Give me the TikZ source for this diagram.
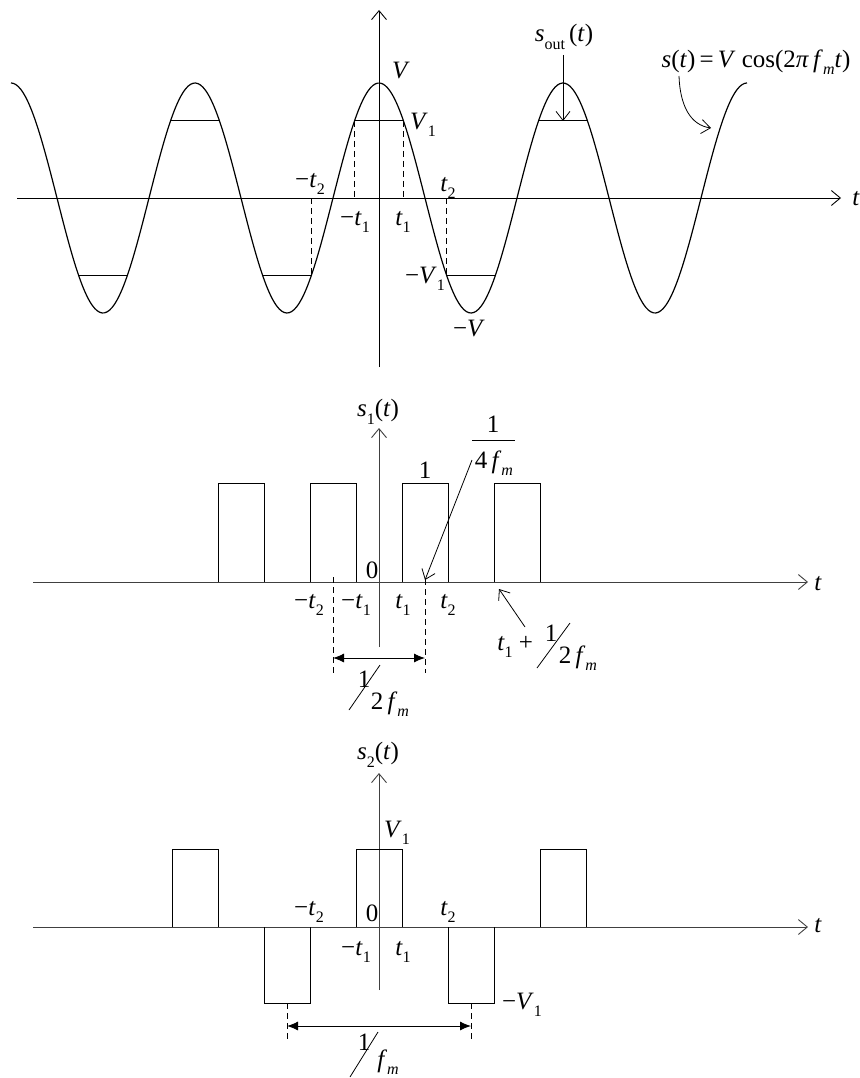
\documentclass[tikz,border=0pt]{standalone}
\usepackage{fontspec}
\setmainfont{Liberation Serif}
\usetikzlibrary{arrows.meta}
\newcommand{\ii}[1]{\textit{#1}}
\newcommand{\lsub}[1]{\raisebox{-0.3em}{\fontsize{16}{16}\selectfont #1}}
\tikzset{
  lbl/.style={font=\fontsize{25}{27}\selectfont, inner sep=0pt},
  axisline/.style={line width=0.9pt, -{Straight Barb[length=9pt,width=15pt]}},
  openarrow/.style={line width=0.8pt, -{Straight Barb[length=9pt,width=14pt]}},
  wave/.style={line width=1.2pt},
  pulse/.style={line width=1pt},
  dashv/.style={line width=0.8pt, dash pattern=on 6pt off 4pt},
  dimarrow/.style={line width=0.9pt, {Latex[length=11pt,width=9pt]}-{Latex[length=11pt,width=9pt]}},
}
\begin{document}
\begin{tikzpicture}[x=1pt,y=-1pt]
\useasboundingbox (0,0) rectangle (859,1078);
% ================= TOP =================
\coordinate (t0L) at (17,198);
\coordinate (t0R) at (841,198);
\coordinate (v0B) at (379,367);
\coordinate (v0T) at (379,10);
\draw[axisline] (t0L) -- (t0R);
\draw[axisline] (v0B) -- (v0T);
\draw[wave] plot[domain=11:747, samples=300, smooth] (\x, {198-115*cos((\x-379)/184*360)});
% V1 segments at peaks
\foreach \p in {195,379,563} \draw[pulse] (\p-24.5,121) -- (\p+24.5,121);
\foreach \p in {103,287,471} \draw[pulse] (\p-24.5,275) -- (\p+24.5,275);
% dashed
\draw[dashv] (354.5,121) -- (354.5,198);
\draw[dashv] (403.5,121) -- (403.5,198);
\draw[dashv] (311.5,198) -- (311.5,275);
\draw[dashv] (446.5,198) -- (446.5,275);
% labels
\node[lbl] (lV) at (401,71) {\ii{V}};
\node[lbl] (lV1) at (423,125) {\ii{V}\lsub{1}};
\node[lbl] (lmt2) at (310,184) {−\ii{t}\lsub{2}};
\node[lbl] (lmt1) at (355,222) {−\ii{t}\lsub{1}};
\node[lbl] (lt1) at (403,222) {\ii{t}\lsub{1}};
\node[lbl] (lt2) at (448,188) {\ii{t}\lsub{2}};
\node[lbl] (lmV1) at (425,279) {−\ii{V}\lsub{1}};
\node[lbl] (lmV) at (469,329) {−\ii{V}};
\node[lbl] (lt) at (856,199) {\ii{t}};
\node[lbl] (sout) at (564,37) {\ii{s}\lsub{out}\,(\ii{t})};
\coordinate (souttip) at (563,121);
\draw[openarrow] (563,55) -- (souttip);
\node[lbl] (sfun) at (756,62) {\ii{s}(\ii{t})\,=\,\ii{V} cos(2\ii{π}\,\ii{f}\lsub{\ii{m}}\ii{t})};
\coordinate (cA) at (679,76);
\coordinate (cB) at (711,128);
\draw[openarrow] (cA) .. controls (680,105) and (690,125) .. (cB);
% ================= MIDDLE =================
\coordinate (t1L) at (33,582);
\coordinate (t1R) at (808,582);
\coordinate (v1B) at (379,647);
\coordinate (v1T) at (379,428);
\draw[axisline,black!75] (t1L) -- (t1R);
\draw[axisline,black!75] (v1B) -- (v1T);
\foreach \a in {218.5,310.5,402.5,494.5}
  \draw[pulse] (\a,582) -- (\a,483) -- (\a+46,483) -- (\a+46,582);
\node[lbl] (ms1) at (378,412) {\ii{s}\lsub{1}(\ii{t})};
\node[lbl] (mone) at (425,470) {1};
\node[lbl] (mzero) at (372,570) {0};
\node[lbl] (mmt2) at (309,605) {−\ii{t}\lsub{2}};
\node[lbl] (mmt1) at (356,605) {−\ii{t}\lsub{1}};
\node[lbl] (mt1) at (403,605) {\ii{t}\lsub{1}};
\node[lbl] (mt2) at (448,605) {\ii{t}\lsub{2}};
\node[lbl] (mt) at (818,584) {\ii{t}};
\draw[dashv] (333,577) -- (333,673);
\draw[dashv] (425,579) -- (425,673);
\coordinate (dA) at (333,658);
\coordinate (dB) at (425,658);
\draw[dimarrow] (dA) -- (dB);
% 1/2fm
\node[lbl] (hfone) at (364,679) {1};
\draw[line width=0.8pt] (380,665) -- (349,710);
\node[lbl] (hfden) at (390,704) {2\,\ii{f}\lsub{\ii{m}}};
% 1/(4fm)
\node[lbl] (qone) at (493,424) {1};
\draw[line width=0.8pt] (472,440) -- (515,440);
\node[lbl] (qden) at (494,463) {4\,\ii{f}\lsub{\ii{m}}};
\coordinate (qs) at (472,460);
\coordinate (qtip) at (425,580);
\draw[openarrow] (qs) -- (qtip);
% t1 + 1/2fm
\node[lbl] (pt1) at (505,647) {\ii{t}\lsub{1}};
\node[lbl] (pplus) at (526,643) {+};
\node[lbl] (pone) at (551,633) {1};
\draw[line width=0.8pt] (570,623) -- (537,668);
\node[lbl] (pden) at (578,658) {2\,\ii{f}\lsub{\ii{m}}};
\coordinate (ps) at (525,627);
\coordinate (ptip) at (499,589);
\draw[openarrow] (ps) -- (ptip);
% ================= BOTTOM =================
\coordinate (t2L) at (33,927);
\coordinate (t2R) at (808,927);
\coordinate (v2B) at (379,990);
\coordinate (v2T) at (379,773);
\draw[axisline,black!75] (t2L) -- (t2R);
\draw[axisline,black!75] (v2B) -- (v2T);
\foreach \c in {195,379,563}
  \draw[pulse] (\c-23,927) -- (\c-23,849) -- (\c+23,849) -- (\c+23,927);
\foreach \c in {287,471}
  \draw[pulse] (\c-23,927) -- (\c-23,1003) -- (\c+23,1003) -- (\c+23,927);
\node[lbl] (bs2) at (378,755) {\ii{s}\lsub{2}(\ii{t})};
\node[lbl] (bV1) at (397,833) {\ii{V}\lsub{1}};
\node[lbl] (bmt2) at (309,912) {−\ii{t}\lsub{2}};
\node[lbl] (bzero) at (372,913) {0};
\node[lbl] (bt2) at (448,912) {\ii{t}\lsub{2}};
\node[lbl] (bmt1) at (356,952) {−\ii{t}\lsub{1}};
\node[lbl] (bt1) at (403,952) {\ii{t}\lsub{1}};
\node[lbl] (bmV1) at (522,1005) {−\ii{V}\lsub{1}};
\node[lbl] (bt) at (818,926) {\ii{t}};
\draw[dashv] (287,1003) -- (287,1042);
\draw[dashv] (471,1003) -- (471,1042);
\coordinate (eA) at (287,1026);
\coordinate (eB) at (471,1026);
\draw[dimarrow] (eA) -- (eB);
\node[lbl] (fone) at (364,1042) {1};
\draw[line width=0.8pt] (378,1032) -- (350,1077);
\node[lbl] (fden) at (388,1062) {\ii{f}\lsub{\ii{m}}};
\end{tikzpicture}
\end{document}
